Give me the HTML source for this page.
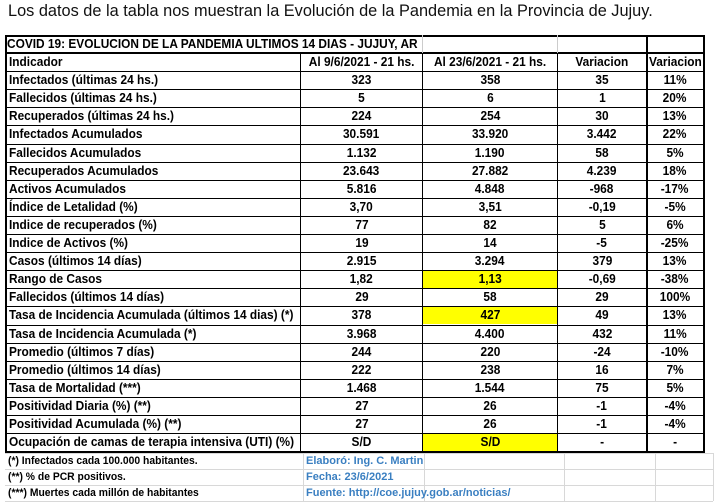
<!DOCTYPE html>
<html><head><meta charset="utf-8"><style>
body{margin:0;width:721px;height:504px;background:#fff;position:relative;overflow:hidden;font-family:"Liberation Sans",sans-serif;}
#t{position:absolute;left:8px;top:1px;font-size:17px;color:#111;white-space:nowrap;transform:scaleX(0.96);transform-origin:left top;}
.c{position:absolute;top:0;height:100%;font-weight:bold;font-size:12.5px;color:#000;line-height:18px;white-space:nowrap;box-sizing:border-box;}
.c span{display:inline-block;transform:scaleX(0.95);}
.l span{transform-origin:left center;}
.m{text-align:center;}
.m span{transform-origin:center;}
.y{background:#ffff00;}
.hl{position:absolute;background:#000;}
.f{position:absolute;font-weight:bold;font-size:11px;line-height:15px;white-space:nowrap;}
.f span{display:inline-block;transform:scaleX(0.94);transform-origin:left center;}
.b{color:#3a7fc1;}
.b span{transform:scaleX(1.0);}
</style></head><body>
<div id="t">Los datos de la tabla nos muestran la Evolución de la Pandemia en la Provincia de Jujuy.</div>
<div id="tbl"></div>
<script>
var X=[5,300,422,557,646,703];
var rows=[
["Indicador","Al 9/6/2021 - 21 hs.","Al 23/6/2021 - 21 hs.","Variacion","Variacion"],
["Infectados (últimas 24 hs.)","323","358","35","11%"],
["Fallecidos (últimas 24 hs.)","5","6","1","20%"],
["Recuperados (últimas 24 hs.)","224","254","30","13%"],
["Infectados Acumulados","30.591","33.920","3.442","22%"],
["Fallecidos Acumulados","1.132","1.190","58","5%"],
["Recuperados Acumulados","23.643","27.882","4.239","18%"],
["Activos Acumulados","5.816","4.848","-968","-17%"],
["Índice de Letalidad (%)","3,70","3,51","-0,19","-5%"],
["Indice de recuperados (%)","77","82","5","6%"],
["Indice de Activos (%)","19","14","-5","-25%"],
["Casos (últimos 14 días)","2.915","3.294","379","13%"],
["Rango de Casos","1,82","1,13","-0,69","-38%"],
["Fallecidos (últimos 14 días)","29","58","29","100%"],
["Tasa de Incidencia Acumulada  (últimos 14 dias) (*)","378","427","49","13%"],
["Tasa de Incidencia Acumulada (*)","3.968","4.400","432","11%"],
["Promedio (últimos 7 días)","244","220","-24","-10%"],
["Promedio (últimos 14 días)","222","238","16","7%"],
["Tasa de Mortalidad (***)","1.468","1.544","75","5%"],
["Positividad Diaria (%) (**)","27","26","-1","-4%"],
["Positividad Acumulada (%) (**)","27","26","-1","-4%"],
["Ocupación de camas de terapia intensiva (UTI) (%)","S/D","S/D","-","-"]];
var yellow={12:1,14:1,21:1};
var h='';
var top0=35,th=18,rh=18.1;
for(var i=0;i<rows.length;i++){
 var y=top0+th+i*rh;
 for(var j=0;j<5;j++){
  var cls=j==0?'c l':'c m';
  var bg=(j==2&&yellow[i])?' y':'';
  var pad=j==0?'padding-left:3px;':'';
  var txt=rows[i][j];
  if(i==0&&j==4){pad='padding-left:2px;';cls='c l';}
  h+='<div class="'+cls+bg+'" style="position:absolute;left:'+(X[j]+1)+'px;top:'+(y+1)+'px;width:'+(X[j+1]-X[j]-1)+'px;height:'+(rh-1)+'px;line-height:'+(rh-1)+'px;'+pad+'"><span>'+txt+'</span></div>';
 }
}
var bot=top0+th+rows.length*rh;
h+='<div class="hl" style="left:5px;top:'+top0+'px;width:699px;height:2px"></div>';
h+='<div class="hl" style="left:5px;top:'+(top0+th-1)+'px;width:699px;height:2px"></div>';
for(var i=1;i<rows.length;i++){h+='<div class="hl" style="left:5px;top:'+Math.round(top0+th+i*rh)+'px;width:699px;height:1px"></div>';}
h+='<div class="hl" style="left:5px;top:'+Math.round(bot)+'px;width:699px;height:2px"></div>';
for(var j=0;j<6;j++){
 var w=(j==0||j==5)?2:(j==4?2:1);
 var t=top0;
 if(j==1||j==2||j==3){t=top0+th;
  if(j!=1)h+='<div style="position:absolute;left:'+X[j]+'px;top:'+top0+'px;width:1px;height:'+th+'px;background:#ccc"></div>';}
 h+='<div class="hl" style="left:'+X[j]+'px;top:'+t+'px;width:'+w+'px;height:'+(Math.round(bot)-t+2)+'px"></div>';
}
h+='<div class="c l" style="left:7px;top:'+(top0+1)+'px;height:17px;line-height:17px;width:414px"><span>COVID 19: EVOLUCION DE LA PANDEMIA ULTIMOS 14 DIAS - JUJUY, AR</span></div>';
var FX=[5,303,424,564,655,713];
var fy=[453,469,485,501];
for(var k=0;k<4;k++)h+='<div style="position:absolute;left:5px;top:'+fy[k]+'px;width:708px;height:1px;background:#d8d8d8"></div>';
for(var j=1;j<6;j++)h+='<div style="position:absolute;left:'+FX[j]+'px;top:453px;width:1px;height:48px;background:#d8d8d8"></div>';
var fl=["(*) Infectados cada 100.000 habitantes.","(**) % de PCR positivos.","(***) Muertes cada millón de habitantes"];
var fr=["Elaboró: Ing. C. Martin","Fecha: 23/6/2021","Fuente: http://coe.jujuy.gob.ar/noticias/"];
for(var k=0;k<3;k++){
 h+='<div class="f" style="left:8px;top:'+(fy[k]+1)+'px"><span>'+fl[k]+'</span></div>';
 h+='<div class="f b" style="left:306px;top:'+(fy[k]+1)+'px"><span>'+fr[k]+'</span></div>';
}
document.getElementById('tbl').innerHTML=h;
</script>
</body></html>
